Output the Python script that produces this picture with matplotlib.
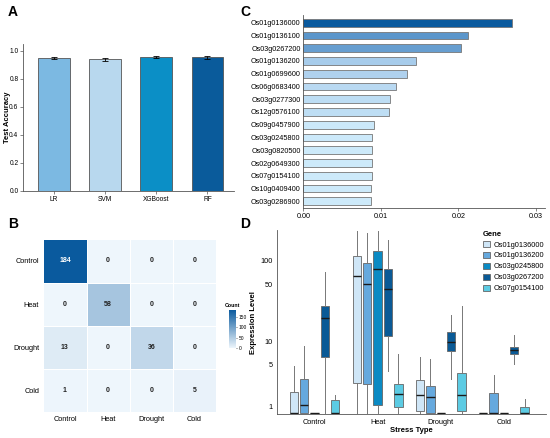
import numpy as np
import matplotlib
matplotlib.use("Agg")
import matplotlib.pyplot as plt
from matplotlib.colors import LinearSegmentedColormap, Normalize
from matplotlib.patches import Patch

plt.rcParams['font.family'] = ['Liberation Sans', 'DejaVu Sans']

# ---- data ----
models = ['LR', 'SVM', 'XGBoost', 'RF']
acc = [0.948, 0.941, 0.955, 0.955]
acc_err = [0.008, 0.010, 0.006, 0.010]
model_colors = ['#7cb9e2', '#b8d8ee', '#0b8fc6', '#0a5b9b']

classes = ['Control', 'Heat', 'Drought', 'Cold']
conf = np.array([[184, 0, 0, 0],
                 [0, 58, 0, 0],
                 [13, 0, 36, 0],
                 [1, 0, 0, 5]])

genes_imp = ['Os01g0136000', 'Os01g0136100', 'Os03g0267200', 'Os01g0136200',
             'Os01g0699600', 'Os06g0683400', 'Os03g0277300', 'Os12g0576100',
             'Os09g0457900', 'Os03g0245800', 'Os03g0820500', 'Os02g0649300',
             'Os07g0154100', 'Os10g0409400', 'Os03g0286900']
importance = [0.0269, 0.0212, 0.0204, 0.0145, 0.0134, 0.0119, 0.0112, 0.0111,
              0.0091, 0.0089, 0.0088, 0.0088, 0.0088, 0.0087, 0.0087]

box_genes = ['Os01g0136000', 'Os01g0136200', 'Os03g0245800', 'Os03g0267200', 'Os07g0154100']
box_colors = ['#cfe6f7', '#66a9de', '#0b8ac3', '#0a5a96', '#5ccbe3']
# per stress type, per gene: whislo, q1, med, q3, whishi
whislo = [[0.55, 0.55, 0.55, 0.55, 0.55],
          [0.55, 0.55, 0.55, 4.11, 0.55],
          [0.55, 0.55, 0.55, 3.14, 0.55],
          [0.55, 0.55, 0.55, 5.05, 0.55]]
q1 = [[0.55, 0.55, 0.55, 6.28, 0.55],
      [2.80, 2.71, 1.09, 11.8, 0.94],
      [0.68, 0.60, 0.55, 7.49, 0.72],
      [0.55, 0.55, 0.55, 6.93, 0.55]]
med = [[0.60, 1.09, 0.56, 19.4, 0.56],
       [63.1, 50.3, 77.6, 44.5, 1.83],
       [1.73, 1.61, 0.56, 9.81, 1.78],
       [0.55, 0.56, 0.55, 7.71, 0.56]]
q3 = [[2.01, 3.14, 0.58, 27.6, 1.42],
      [112.8, 91.8, 130.0, 77.6, 2.71],
      [3.04, 2.52, 0.58, 13.2, 3.86],
      [0.57, 1.88, 0.57, 8.49, 0.92]]
whishi = [[4.80, 8.83, 0.58, 71.9, 1.78],
          [230.0, 214.0, 225.0, 177.0, 6.93],
          [6.28, 6.04, 0.58, 21.4, 27.1],
          [0.57, 3.66, 0.57, 12.1, 1.49]]

fig = plt.figure(figsize=(5.5, 4.38), dpi=100)

# ---- A: accuracy bars ----
axA = fig.add_axes([0.0424, 0.564, 0.383, 0.3356])
x = np.arange(len(models))
axA.bar(x, acc, width=0.62, color=model_colors, edgecolor='#555555', linewidth=0.6,
        yerr=acc_err, capsize=2, error_kw=dict(elinewidth=0.6, capthick=0.6, ecolor='black'))
axA.set_xticks(x)
axA.set_xticklabels(models)
axA.set_xlim(-0.6, 3.52)
axA.set_ylim(0, 1.05)
axA.set_yticks([0, 0.2, 0.4, 0.6, 0.8, 1.0])
axA.set_ylabel('Test Accuracy', fontsize=5.5, fontweight='bold')
axA.yaxis.set_label_coords(-0.06, 0.5)
for s in ['top', 'right']:
    axA.spines[s].set_visible(False)
for s in ['left', 'bottom']:
    axA.spines[s].set_color('#555555')
    axA.spines[s].set_linewidth(0.6)
axA.tick_params(labelsize=4.8, length=2, width=0.5, color='#555555', pad=1.5)

# ---- C: feature importance ----
axC = fig.add_axes([0.5515, 0.5244, 0.4395, 0.4413])
cmapC = LinearSegmentedColormap.from_list('c', ['#cdeafa', '#b0d2ef', '#8ebbe0', '#4a89c4', '#0a5a9e'])
normC = Normalize(min(importance), max(importance))
yC = np.arange(len(genes_imp))
axC.barh(yC, importance, height=0.6, color=cmapC(normC(np.array(importance))),
         edgecolor='#777777', linewidth=0.6)
axC.set_yticks(yC)
axC.set_yticklabels(genes_imp)
axC.set_ylim(14.55, -0.6)
axC.set_xlim(0, 0.0312)
axC.set_xticks([0, 0.01, 0.02, 0.03])
axC.set_xticklabels(['0.00', '0.01', '0.02', '0.03'])
for s in ['top', 'right']:
    axC.spines[s].set_visible(False)
for s in ['left', 'bottom']:
    axC.spines[s].set_color('#555555')
    axC.spines[s].set_linewidth(0.6)
axC.tick_params(axis='y', length=0, labelsize=5.2, pad=2)
axC.tick_params(axis='x', length=2, width=0.5, color='#555555', labelsize=5.2, pad=1.5)

# ---- B: confusion matrix ----
axB = fig.add_axes([0.0788, 0.0594, 0.314, 0.394])
cmapB = LinearSegmentedColormap.from_list('b', ['#eef6fc', '#0a5a9e'])
mesh = axB.pcolormesh(np.arange(5), np.arange(5), conf, cmap=cmapB, vmin=0, vmax=184,
                      edgecolors='white', linewidth=0.7)
axB.set_xlim(0, 4)
axB.set_ylim(4, 0)
axB.set_xticks(np.arange(4) + 0.5)
axB.set_xticklabels(classes)
axB.set_yticks(np.arange(4) + 0.5)
axB.set_yticklabels(classes)
for s in axB.spines.values():
    s.set_visible(False)
axB.tick_params(length=0, labelsize=5.3, pad=3)
for i in range(4):
    for j in range(4):
        v = conf[i, j]
        axB.text(j + 0.5, i + 0.5, str(v), ha='center', va='center', fontsize=5,
                 fontweight='bold', color='white' if v > 100 else '#222222')
cax = fig.add_axes([0.417, 0.205, 0.0122, 0.0875])
cb = fig.colorbar(mesh, cax=cax, ticks=[0, 50, 100, 150])
cb.outline.set_visible(False)
cax.tick_params(labelsize=3.5, length=1, width=0.4, pad=1)
cax.set_title('Count', fontsize=3.8, fontweight='bold', pad=2)

# ---- D: expression boxplots ----
axD = fig.add_axes([0.503, 0.054, 0.489, 0.421])
axD.set_yscale('asinh', linear_width=2)
nG = len(box_genes)
offsets = (np.arange(nG) - 2) * 0.164
for gi in range(nG):
    stats = []
    for si in range(len(classes)):
        stats.append(dict(whislo=whislo[si][gi], q1=q1[si][gi], med=med[si][gi],
                          q3=q3[si][gi], whishi=whishi[si][gi]))
    axD.bxp(stats, positions=np.arange(len(classes)) + offsets[gi], widths=0.132,
            showfliers=False, showcaps=False, patch_artist=True,
            boxprops=dict(facecolor=box_colors[gi], edgecolor='#666666', linewidth=0.6),
            whiskerprops=dict(color='#777777', linewidth=0.7),
            medianprops=dict(color='#1a1a1a', linewidth=1.0))
axD.set_xlim(-0.6, 3.66)
axD.set_ylim(0.5, 235)
axD.set_yticks([1, 5, 10, 50, 100])
axD.set_yticklabels(['1', '5', '10', '50', '100'])
axD.yaxis.set_minor_locator(matplotlib.ticker.NullLocator())
axD.set_xticks(np.arange(len(classes)))
axD.set_xticklabels(classes)
axD.set_xlabel('Stress Type', fontsize=5.5, fontweight='bold', labelpad=1)
axD.set_ylabel('Expression Level', fontsize=5.5, fontweight='bold', labelpad=2)
for s in ['top', 'right']:
    axD.spines[s].set_visible(False)
for s in ['left', 'bottom']:
    axD.spines[s].set_color('#555555')
    axD.spines[s].set_linewidth(0.6)
axD.tick_params(labelsize=5.3, length=0, pad=3)
handles = [Patch(facecolor=c, edgecolor='#666666', linewidth=0.6) for c in box_colors]
leg = axD.legend(handles, box_genes, title='Gene', loc='upper right', bbox_to_anchor=(1.01, 1.02),
                 frameon=False, fontsize=5.3, title_fontproperties=dict(weight='bold', size=5.5),
                 handlelength=1.0, handleheight=0.9, handletextpad=0.4, labelspacing=0.45,
                 borderaxespad=0.2)
leg._legend_box.align = 'left'

# ---- panel letters ----
for lab, (px, py) in zip('ABCD', [(8, 5), (8, 217), (240, 5), (240, 217)]):
    fig.text(px / 550, 1 - py / 438, lab, fontsize=10, fontweight='bold', va='top', ha='left')

fig.savefig('out.png', dpi=100)
